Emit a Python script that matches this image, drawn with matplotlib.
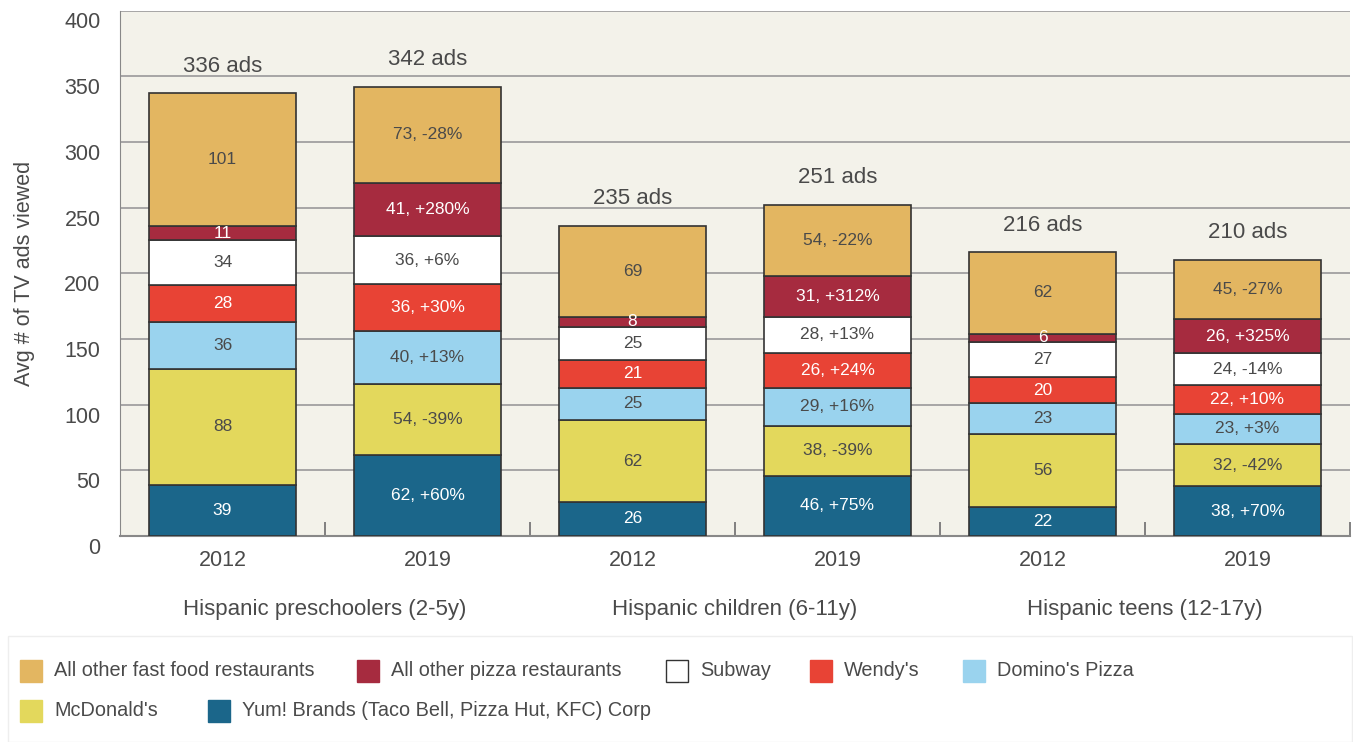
import matplotlib
matplotlib.use("Agg")
import matplotlib.pyplot as plt
import matplotlib.patches as mpatches
from matplotlib.transforms import ScaledTranslation
import numpy as np

plt.rcParams['font.family'] = ['Liberation Sans', 'DejaVu Sans']

years = ['2012', '2019', '2012', '2019', '2012', '2019']
groups = ['Hispanic preschoolers (2-5y)', 'Hispanic children (6-11y)', 'Hispanic teens (12-17y)']
totals = [336, 342, 235, 251, 216, 210]

# stacked from bottom to top
series = ["Yum! Brands (Taco Bell, Pizza Hut, KFC) Corp", "McDonald's", "Domino's Pizza",
          "Wendy's", "Subway", "All other pizza restaurants", "All other fast food restaurants"]
colors = ['#1b668a', '#e3d85c', '#9ad3ee', '#e84335', '#ffffff', '#a62b3f', '#e3b661']
text_colors = ['white', '#4a4a4a', '#4a4a4a', 'white', '#4a4a4a', 'white', '#4a4a4a']

yum = [39, 62, 26, 46, 22, 38]
mcdonalds = [88, 54, 62, 38, 56, 32]
dominos = [36, 40, 25, 29, 23, 23]
wendys = [28, 36, 21, 26, 20, 22]
subway = [34, 36, 25, 28, 27, 24]
other_pizza = [11, 41, 8, 31, 6, 26]
other_ff = [101, 73, 69, 54, 62, 45]

yum_chg = ['+60%', '+75%', '+70%']
mcd_chg = ['-39%', '-39%', '-42%']
dom_chg = ['+13%', '+16%', '+3%']
wen_chg = ['+30%', '+24%', '+10%']
sub_chg = ['+6%', '+13%', '-14%']
piz_chg = ['+280%', '+312%', '+325%']
ff_chg = ['-28%', '-22%', '-27%']

values = [yum, mcdonalds, dominos, wendys, subway, other_pizza, other_ff]
changes = [yum_chg, mcd_chg, dom_chg, wen_chg, sub_chg, piz_chg, ff_chg]

grey = '#4a4a4a'

fig = plt.figure(figsize=(13.53, 7.42), dpi=100)
ax = fig.add_axes([120 / 1353, 1 - 536 / 742, 1230 / 1353, 525.5 / 742])
ax.set_facecolor('#f3f2ea')

x = np.arange(len(years))
width = 0.72
bottom = np.zeros(len(years))
for vals, chg, col, tc in zip(values, changes, colors, text_colors):
    ax.bar(x, vals, width, bottom=bottom, color=col, edgecolor='#333333', linewidth=1.2, zorder=3)
    for i, v in enumerate(vals):
        lbl = str(v) if i % 2 == 0 else f'{v}, {chg[i // 2]}'
        ax.text(x[i], bottom[i] + v / 2, lbl, ha='center', va='center',
                fontsize=12.5, color=tc, zorder=4)
    bottom += vals

for i, t in enumerate(totals):
    ax.annotate(f'{t} ads', (x[i], bottom[i]), xytext=(0, 12), textcoords='offset points',
                ha='center', va='bottom', fontsize=16, color=grey)

ax.set_xlim(-0.5, 5.5)
ax.set_ylim(0, 400)
ax.set_yticks(range(0, 401, 50))
ax.yaxis.grid(True, color='#a0a0a0', linewidth=1.3, zorder=0)
ax.set_axisbelow(True)
ax.tick_params(axis='y', length=0, pad=14, labelsize=15.5, labelcolor=grey)
for lab in ax.get_yticklabels():
    lab.set_transform(lab.get_transform() + ScaledTranslation(0, -0.1, fig.dpi_scale_trans))

ax.set_xticks(x)
ax.set_xticklabels(years)
ax.set_xticks(np.arange(0.5, 6, 1), minor=True)
ax.tick_params(axis='x', which='major', length=0, pad=10, labelsize=15.5, labelcolor=grey)
ax.tick_params(axis='x', which='minor', direction='in', length=10, width=1.3, color='#777777')

for i, g in enumerate(groups):
    ax.text(2 * i + 0.5, -0.14, g, transform=ax.get_xaxis_transform(),
            ha='center', va='center', fontsize=16, color=grey)

ax.set_ylabel('Avg # of TV ads viewed', fontsize=15.5, color=grey, labelpad=21)

ax.spines['top'].set_visible(False)
ax.spines['right'].set_visible(False)
ax.spines['left'].set_color('#888888')
ax.spines['bottom'].set_color('#888888')
ax.spines['bottom'].set_linewidth(1.5)

# legend box
fig.add_artist(mpatches.Rectangle((8 / 1353, 0), 1344 / 1353, 106 / 742, transform=fig.transFigure,
                                  facecolor='white', edgecolor='#eeeeee', linewidth=1))
legend_rows = [
    [(6, 20), (5, 357), (4, 666), (3, 810), (2, 963)],
    [(1, 20), (0, 208)],
]
row_y = [671, 711]
for row, yc in zip(legend_rows, row_y):
    for idx, px in row:
        fig.add_artist(mpatches.Rectangle((px / 1353, 1 - (yc + 11) / 742), 22 / 1353, 22 / 742,
                                          transform=fig.transFigure, facecolor=colors[idx],
                                          edgecolor='#333333' if idx == 4 else colors[idx], linewidth=1))
        fig.text((px + 34) / 1353, 1 - yc / 742, series[idx], ha='left', va='center',
                 fontsize=14.3, color=grey)

fig.savefig('out.png', dpi=100)
